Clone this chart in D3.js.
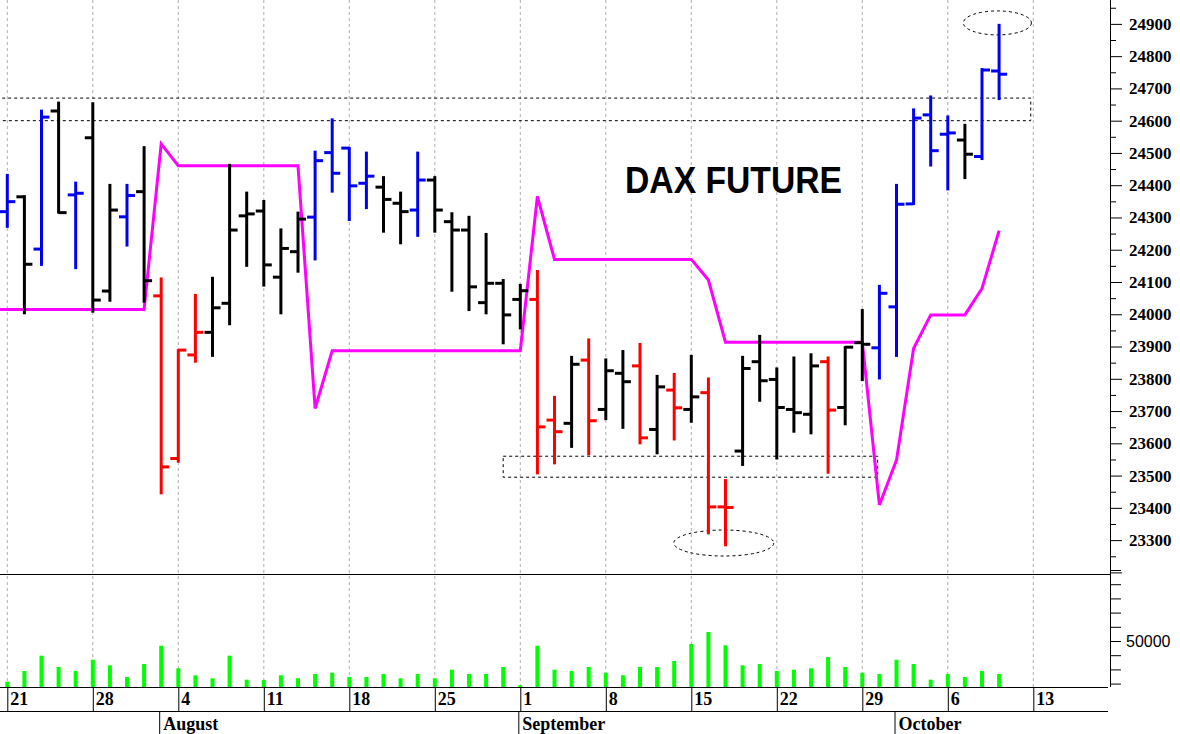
<!DOCTYPE html>
<html><head><meta charset="utf-8">
<script src="https://cdn.jsdelivr.net/npm/d3@7/dist/d3.min.js"></script>
<style>html,body{margin:0;padding:0;background:#fff;}svg{display:block;}</style>
</head><body>
<svg id="c" width="1180" height="734"></svg>
<script>
// ---------------- DATA ----------------
const dates = ["2025-07-21","2025-07-22","2025-07-23","2025-07-24","2025-07-25",
"2025-07-28","2025-07-29","2025-07-30","2025-07-31","2025-08-01",
"2025-08-04","2025-08-05","2025-08-06","2025-08-07","2025-08-08",
"2025-08-11","2025-08-12","2025-08-13","2025-08-14","2025-08-15",
"2025-08-18","2025-08-19","2025-08-20","2025-08-21","2025-08-22",
"2025-08-25","2025-08-26","2025-08-27","2025-08-28","2025-08-29",
"2025-09-01","2025-09-02","2025-09-03","2025-09-04","2025-09-05",
"2025-09-08","2025-09-09","2025-09-10","2025-09-11","2025-09-12",
"2025-09-15","2025-09-16","2025-09-17","2025-09-18","2025-09-19",
"2025-09-22","2025-09-23","2025-09-24","2025-09-25","2025-09-26",
"2025-09-29","2025-09-30","2025-10-01","2025-10-02","2025-10-03",
"2025-10-06","2025-10-07","2025-10-08","2025-10-09"];
const openV  = [24318,24364,24202,24630,24370, 24547,24072,24302,24380,24057,
23553,23874,23944,24034,24305, 24320,24115,24194,24301,24501,
24515,24406,24394,24344,24323, 24416,24287,24261,24036,24096,
24046,24046,23672,23662,23858, 23705,23817,23840,23643,23765,
23705,23757,23403,23576,23853, 23798,23705,23690,23853,23711,
23912,23896,24023,24342,24618, 24558,24540,24489,24754];
const highV  = [24432,24366,24631,24656,24408, 24654,24401,24401,24518,24111,
23889,24060,24113,24463,24377, 24351,24263,24315,24504,24604,
24515,24501,24425,24377,24501, 24425,24313,24302,24249,24106,
24091,24134,23744,23868,23922, 23860,23886,23908,23809,23815,
23871,23801,23486,23868,23933, 23832,23866,23876,23866,23898,
24013,24088,24401,24635,24675, 24613,24587,24760,24897];
const lowV   = [24271,24003,24153,24315,24143, 24008,24042,24213,24039,23445,
23543,23853,23871,23969,24150, 24089,24003,24132,24170,24380,
24292,24329,24256,24220,24243, 24256,24073,24013,24003,23910,
23956,23507,23538,23589,23566, 23675,23648,23600,23569,23612,
23667,23321,23284,23533,23732, 23553,23636,23631,23509,23659,
23796,23801,23871,24342,24461, 24387,24422,24481,24667];
const closeV = [24349,24155,24611,24315,24375, 24044,24323,24368,24104,23527,
23889,23944,24020,24261,24311, 24153,24204,24295,24476,24437,
24398,24428,24356,24318,24416, 24323,24261,24085,24096,23998,
24073,23651,23636,23845,23670, 23825,23791,23617,23775,23710,
23744,23403,23401,23832,23794, 23711,23695,23840,23703,23898,
23907,24065,24341,24608,24507, 24562,24496,24757,24744];
// bar signal: 1 = up (blue), 0 = neutral (black), -1 = down (red)
const signal = [1,0,1,0,1, 0,0,1,0,-1, -1,-1,0,0,0, 0,0,0,1,1,
1,1,0,0,1, 0,0,0,0,0, 0,-1,-1,0,-1, 0,0,-1,0,-1,
0,-1,-1,0,0, 0,0,0,-1,0, 0,1,1,1,1, 1,0,1,1];
const stopLine = [24015,24015,24015,24015,24015, 24015,24015,24015,24015,24528,
24460,24460,24460,24460,24460, 24460,24460,24460,23708,23887,
23887,23887,23887,23887,23887, 23887,23887,23887,23887,23887,
23887,24365,24170,24170,24170, 24170,24170,24170,24170,24170,
24170,24106,23913,23913,23913, 23913,23913,23913,23913,23913,
23913,23409,23548,23894,23998, 23998,23998,24080,24259];
const volume = [21340,28870,39650,31690,28870, 36830,32890,24650,33800,46690,
30770,25850,23730,39650,22750, 22540,25850,23730,26760,27680,
24650,24650,26760,23730,26760, 23730,29790,26760,26760,31690,
18800,46690,29790,28870,31690, 27680,25850,31690,31690,35920,
47890,56340,46970,32890,33800, 28870,29790,30770,38730,31690,
27680,26760,36830,33800,22750, 26760,24650,28870,26760];
// Axis labels
const weekIdx    = [0,5,10,15,20,25,30,35,40,45,50,55,60];
const weekLabels = ["21","28","4","11","18","25","1","8","15","22","29","6","13"];
const monthIdx    = [9,30,52];
const monthLabels = ["August","September","October"];
const priceMajorTicks = d3.range(23200, 24901, 100);
const priceMinorTicks = d3.range(23250, 24951, 100);
const volTicks = d3.range(20000, 100001, 10000);
const volLabelled = [50000];
const title = "DAX FUTURE";
// Annotations (index range / value range)
const zones = [{i0:-1, i1:59.85, lo:24600, hi:24670},{i0:29, i1:50.9, lo:23495, hi:23560}];
const circles = [{i:41.9, v:23291},{i:57.9, v:24903}];

// ---------------- LAYOUT ----------------
const svg = d3.select("#c");
const AX = 1110, P_TOP = 0, P_BOT = 574, V_BOT = 687, D_BOT = 711, M_BOT = 734;
const x = d3.scaleLinear().domain([0,60]).range([7.3, 1033.3]);
const y = d3.scaleLinear().domain([23195, 24974]).range([P_BOT, P_TOP]);
const yv = d3.scaleLinear().domain([17600, 50000]).range([V_BOT, 641]);
const COLORS = {"1":"#0000f0","0":"#000000","-1":"#ff0000"};
const serif = "'Liberation Serif','Times New Roman',serif";
const sans = "'Liberation Sans',Arial,sans-serif";

svg.append("defs").append("clipPath").attr("id","clipP")
  .append("rect").attr("x",0).attr("y",P_TOP).attr("width",AX).attr("height",P_BOT-P_TOP);

// gridlines
svg.append("g").selectAll("line").data(weekIdx).join("line")
  .attr("x1",d=>x(d)).attr("x2",d=>x(d)).attr("y1",0).attr("y2",V_BOT)
  .attr("stroke","#b0b0b0").attr("stroke-width",1).attr("stroke-dasharray","3,3");

// pane separators
svg.append("line").attr("x1",0).attr("x2",AX).attr("y1",P_BOT+0.5).attr("y2",P_BOT+0.5).attr("stroke","#000");
svg.append("line").attr("x1",0).attr("x2",AX-2).attr("y1",V_BOT+0.5).attr("y2",V_BOT+0.5).attr("stroke","#000");
svg.append("line").attr("x1",0).attr("x2",AX-2).attr("y1",D_BOT+0.5).attr("y2",D_BOT+0.5).attr("stroke","#000");

const gP = svg.append("g").attr("clip-path","url(#clipP)");

// annotation zones
gP.append("g").selectAll("rect").data(zones).join("rect")
  .attr("x",d=>x(d.i0)).attr("width",d=>x(d.i1)-x(d.i0))
  .attr("y",d=>y(d.hi)).attr("height",d=>y(d.lo)-y(d.hi))
  .attr("fill","none").attr("stroke","#000").attr("stroke-width",1).attr("stroke-dasharray","3,3");
const radii = [[50,13],[34,12]];
gP.append("g").selectAll("ellipse").data(circles).join("ellipse")
  .attr("cx",d=>x(d.i)).attr("cy",d=>y(d.v))
  .attr("rx",(d,i)=>radii[i][0]).attr("ry",(d,i)=>radii[i][1])
  .attr("fill","none").attr("stroke","#000").attr("stroke-width",1).attr("stroke-dasharray","3,3");

// magenta line
const lineData = [[-1, stopLine[0]]].concat(stopLine.map((v,i)=>[i,v]));
gP.append("path").datum(lineData)
  .attr("d", d3.line().x(d=>x(d[0])).y(d=>y(d[1])))
  .attr("fill","none").attr("stroke","#ff00ff").attr("stroke-width",3).attr("stroke-linejoin","miter");

// OHLC bars
const bars = gP.append("g").selectAll("g").data(dates.map((d,i)=>i)).join("g")
  .attr("stroke",i=>COLORS[signal[i]]).attr("stroke-width",3);
bars.append("line").attr("x1",i=>x(i)).attr("x2",i=>x(i))
  .attr("y1",i=>y(highV[i])-1).attr("y2",i=>y(lowV[i])+1);
bars.append("line").attr("x1",i=>x(i)-8).attr("x2",i=>x(i))
  .attr("y1",i=>y(openV[i])).attr("y2",i=>y(openV[i]));
bars.append("line").attr("x1",i=>x(i)).attr("x2",i=>x(i)+8)
  .attr("y1",i=>y(closeV[i])).attr("y2",i=>y(closeV[i]));

// title
svg.append("text").attr("x",625).attr("y",193).text(title)
  .attr("font-family",sans).attr("font-weight","bold").attr("font-size",36)
  .attr("textLength",217).attr("lengthAdjust","spacingAndGlyphs").attr("fill","#000");

// volume bars
svg.append("g").selectAll("rect").data(volume).join("rect")
  .attr("x",(d,i)=>x(i)-2).attr("width",4)
  .attr("y",d=>yv(d)).attr("height",d=>V_BOT-yv(d))
  .attr("fill","#00ff00");

// price axis
const gAx = svg.append("g").attr("transform",`translate(${AX},0)`);
gAx.call(d3.axisRight(y).tickValues(priceMinorTicks).tickSize(6).tickSizeOuter(0).tickFormat(""));
gAx.call(g=>g.select(".domain").remove());
const gAx2 = svg.append("g").attr("transform",`translate(${AX},0)`);
gAx2.call(d3.axisRight(y).tickValues(priceMajorTicks).tickSize(12).tickSizeOuter(0).tickPadding(7)
  .tickFormat(d=> d>=23300 ? d3.format("d")(d) : ""));
gAx2.select(".domain").remove();
gAx2.selectAll("text").attr("font-family",serif).attr("font-weight","bold").attr("font-size",17).attr("fill","#000");
svg.append("line").attr("x1",AX+0.5).attr("x2",AX+0.5).attr("y1",0).attr("y2",V_BOT).attr("stroke","#000");

// volume axis
const gV = svg.append("g").attr("transform",`translate(${AX},0)`);
gV.call(d3.axisRight(yv).tickValues(volTicks).tickSize(11).tickSizeOuter(0).tickPadding(5)
  .tickFormat(d=> volLabelled.includes(d) ? d3.format("d")(d) : ""));
gV.select(".domain").remove();
gV.selectAll("text").attr("font-family",sans).attr("font-size",16).attr("fill","#000");

// date axis
svg.append("g").selectAll("line").data(weekIdx).join("line")
  .attr("x1",d=>x(d)+0.5).attr("x2",d=>x(d)+0.5).attr("y1",V_BOT).attr("y2",D_BOT).attr("stroke","#000");
svg.append("g").selectAll("text").data(weekIdx).join("text")
  .attr("x",d=>x(d)+3).attr("y",D_BOT-6).text((d,i)=>weekLabels[i])
  .attr("font-family",serif).attr("font-weight","bold").attr("font-size",18).attr("fill","#000");
svg.append("g").selectAll("line").data(monthIdx).join("line")
  .attr("x1",d=>x(d)-1.5).attr("x2",d=>x(d)-1.5).attr("y1",D_BOT).attr("y2",M_BOT).attr("stroke","#000");
svg.append("g").selectAll("text").data(monthIdx).join("text")
  .attr("x",d=>x(d)+2).attr("y",M_BOT-4).text((d,i)=>monthLabels[i])
  .attr("font-family",serif).attr("font-weight","bold").attr("font-size",18).attr("fill","#000");
</script>
</body></html>
